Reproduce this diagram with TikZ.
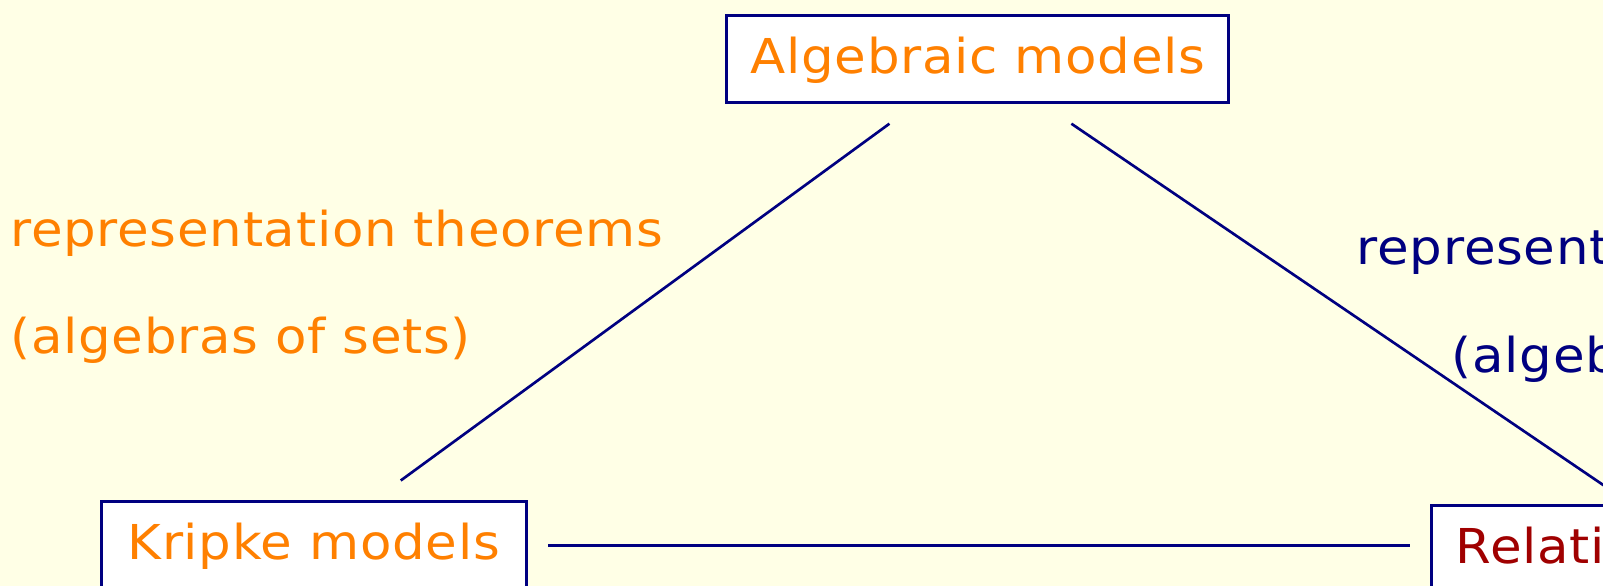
\documentclass[tikz,border=0pt]{standalone}
\usepackage{fontspec}
\setmainfont{DejaVu Sans}[FakeStretch=1.07,LetterSpace=1.5]
\definecolor{bgyellow}{RGB}{255,255,230}
\definecolor{navyc}{RGB}{0,0,128}
\definecolor{orangec}{RGB}{255,128,0}
\definecolor{darkredc}{RGB}{160,0,0}
\tikzset{
  modelbox/.style={draw=navyc, line width=3pt, fill=white, inner sep=0pt,
    minimum height=85pt, text height=35pt, text depth=6pt, align=center},
  lbl/.style={inner sep=0pt, anchor=base west},
  conn/.style={draw=navyc, line width=2.6pt}
}
\begin{document}
\begin{tikzpicture}[x=1pt,y=-1pt,font=\fontsize{47pt}{58pt}\selectfont]
\useasboundingbox (0,0) rectangle (1568,573);
\clip (0,0) rectangle (1568,573);
\fill[bgyellow] (0,0) rectangle (1568,573);

\node[modelbox, minimum width=491pt, text=orangec] (alg) at (956.5,57.5) {Algebraic models};
\node[modelbox, minimum width=416pt, text=orangec] (kri) at (307,533.2) {Kripke models};
\node[modelbox, minimum width=506pt, text=darkredc, anchor=west] (rel) at (1399,537) {Relational models};

\node[lbl, text=orangec] (lt1) at (10,241) {representation theorems};
\node[lbl, text=orangec] (lt2) at (10,346) {(algebras of sets)};
\node[lbl, text=navyc] (rt1) at (1327,259) {representation theorems};
\node[lbl, text=navyc] (rt2) at (1420,364) {(algebras of relations)};

\coordinate (a1) at (870,121);
\coordinate (k1) at (392,470);
\coordinate (a2) at (1048,121);
\coordinate (r1) at (1572,477);
\coordinate (k2) at (536.5,533.5);
\coordinate (r2) at (1379,533.5);

\draw[conn] (a1) -- (k1);
\draw[conn] (a2) -- (r1);
\draw[conn] (k2) -- (r2);
\end{tikzpicture}
\end{document}
